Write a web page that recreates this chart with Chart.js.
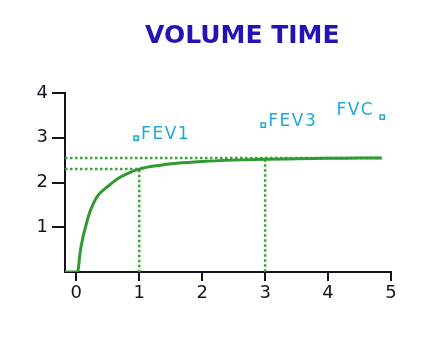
<!DOCTYPE html>
<html>
<head>
<meta charset="utf-8">
<script src="https://cdn.jsdelivr.net/npm/chart.js@4/dist/chart.umd.min.js"></script>
<style>
  html, body { margin: 0; padding: 0; background: #fff; }
  #wrap { width: 432px; height: 342px; }
</style>
</head>
<body>
<div id="wrap"><canvas id="chart" width="432" height="342"></canvas></div>
<script>
// Volume-time curve (seconds, litres)
const timeValues   = [-0.18, 0.02, 0.06, 0.10, 0.14, 0.20, 0.27, 0.35, 0.49, 0.65, 0.81, 1.00, 1.30, 1.60, 2.00, 2.50, 3.00, 3.50, 4.00, 4.50, 4.85];
const volumeValues = [0,     0,    0.43, 0.75, 0.97, 1.28, 1.53, 1.72, 1.90, 2.08, 2.20, 2.30, 2.38, 2.43, 2.47, 2.50, 2.52, 2.53, 2.54, 2.55, 2.55];

// Reference values
const fev1 = 2.30;
const fev3 = 2.52;
const fvc = 2.55;

// Marker labels
const markerLabels  = ['FEV1', 'FEV3', 'FVC'];
const markerTimes   = [0.95, 2.97, 4.86];
const markerVolumes = [2.99, 3.28, 3.46];

const xTicks = [0, 1, 2, 3, 4, 5];
const yTicks = [1, 2, 3, 4];

const GREEN = '#2f9a2f';
const DOT_GREEN = '#35a535';
const CYAN = '#23a6d9';
const AXIS = '#151520';

const curve = timeValues.map((t, i) => ({ x: t, y: volumeValues[i] }));

const titlePlugin = {
  id: 'pageTitle',
  afterDraw(chart) {
    const ctx = chart.ctx;
    ctx.save();
    ctx.fillStyle = '#2414b4';
    ctx.font = 'bold 25px "DejaVu Sans"';
    ctx.textAlign = 'left';
    ctx.textBaseline = 'middle';
    ctx.fillText('VOLUME TIME', 145, 36, 196);
    ctx.restore();
  }
};

const markerText = {
  id: 'markerText',
  afterDatasetsDraw(chart) {
    const ctx = chart.ctx;
    const xs = chart.scales.x, ys = chart.scales.y;
    ctx.save();
    ctx.fillStyle = CYAN;
    ctx.font = '17px "DejaVu Sans"';
    ctx.letterSpacing = '1.5px';
    ctx.textBaseline = 'alphabetic';
    markerLabels.forEach((lbl, i) => {
      const px = xs.getPixelForValue(markerTimes[i]);
      const py = ys.getPixelForValue(markerVolumes[i]);
      if (lbl === 'FVC') {
        ctx.textAlign = 'right';
        ctx.fillText(lbl, px - 8, py - 2);
      } else {
        ctx.textAlign = 'left';
        ctx.fillText(lbl, px + 5, py + 1);
      }
    });
    ctx.restore();
  }
};

new Chart(document.getElementById('chart'), {
  type: 'scatter',
  data: {
    datasets: [
      {
        data: curve,
        showLine: true,
        borderColor: GREEN,
        borderWidth: 3,
        pointRadius: 0,
        cubicInterpolationMode: 'monotone',
        order: 1
      },
      {
        data: [{ x: -0.18, y: fvc }, { x: 4.85, y: fvc }],
        showLine: true,
        borderColor: DOT_GREEN,
        borderWidth: 2.5,
        borderDash: [2.5, 2.5],
        pointRadius: 0,
        order: 2
      },
      {
        data: [{ x: -0.18, y: fev1 }, { x: 1, y: fev1 }, { x: 1, y: 0 }],
        showLine: true,
        borderColor: DOT_GREEN,
        borderWidth: 2.5,
        borderDash: [2.5, 2.5],
        pointRadius: 0,
        order: 2
      },
      {
        data: [{ x: 3, y: fev3 }, { x: 3, y: 0 }],
        showLine: true,
        borderColor: DOT_GREEN,
        borderWidth: 2.5,
        borderDash: [2.5, 2.5],
        pointRadius: 0,
        order: 2
      },
      {
        data: markerTimes.map((t, i) => ({ x: t, y: markerVolumes[i] })),
        pointStyle: 'rect',
        pointRadius: 3,
        borderWidth: 1.5,
        borderColor: CYAN,
        backgroundColor: '#fff',
        order: 0
      }
    ]
  },
  options: {
    responsive: false,
    animation: false,
    layout: { padding: { left: 0, top: 93, right: 41, bottom: 40 } },
    plugins: {
      legend: { display: false },
      tooltip: { enabled: false },
      title: { display: false }
    },
    scales: {
      x: {
        type: 'linear',
        min: -0.18,
        max: 5,
        afterBuildTicks: s => { s.ticks = xTicks.map(v => ({ value: v })); },
        afterFit: s => { s.height = 30; },
        border: { color: AXIS, width: 2 },
        grid: { display: true, drawOnChartArea: false, drawTicks: true, tickLength: 9, color: AXIS, lineWidth: 2 },
        ticks: { color: AXIS, padding: 2, font: { family: 'DejaVu Sans', size: 18 } }
      },
      y: {
        type: 'linear',
        min: 0,
        max: 4,
        afterBuildTicks: s => { s.ticks = yTicks.map(v => ({ value: v })); },
        afterFit: s => { s.width = 65; },
        border: { color: AXIS, width: 2 },
        grid: { display: true, drawOnChartArea: false, drawTicks: true, tickLength: 13, color: AXIS, lineWidth: 2 },
        ticks: { color: AXIS, padding: 4, font: { family: 'DejaVu Sans', size: 18 } }
      }
    }
  },
  plugins: [titlePlugin, markerText]
});
</script>
</body>
</html>
